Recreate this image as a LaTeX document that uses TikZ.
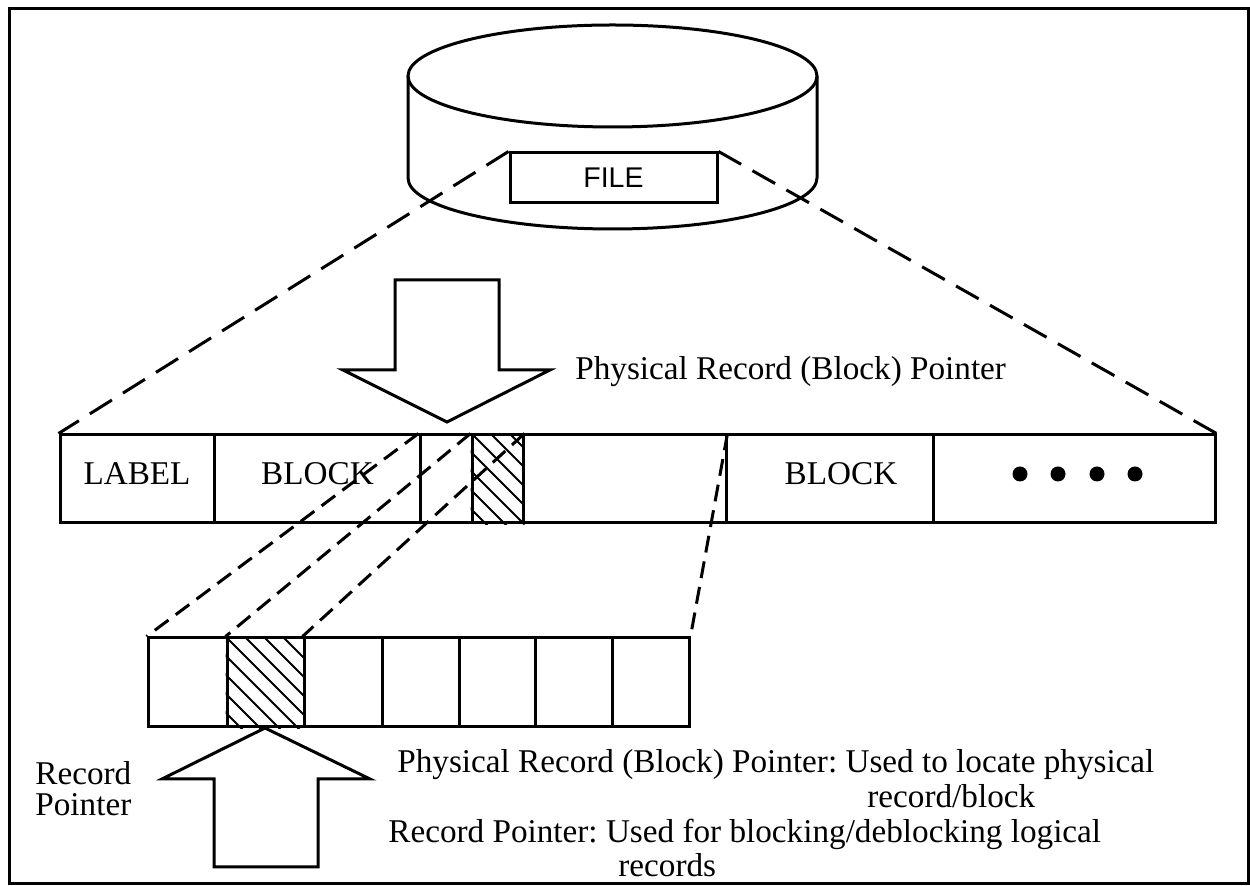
\documentclass[tikz,border=0pt]{standalone}
\usepackage{fontspec}
\setmainfont{Liberation Serif}
\newfontfamily\filefont{Liberation Sans}
\frenchspacing
\begin{document}
\begin{tikzpicture}[x=0.5pt,y=-0.5pt,
  lw/.style={line width=1.5pt},
  cell/.style={draw, line width=1.5pt, rectangle, inner sep=0pt, minimum height=44pt},
  lcell/.style={draw, line width=1.5pt, rectangle, inner sep=0pt, minimum height=44.5pt},
  txt/.style={font=\fontsize{16.6}{18}\selectfont, inner sep=0pt},
  longdash/.style={line width=1.5pt, dash pattern=on 13pt off 6.5pt},
  shortdash/.style={line width=1.5pt, dash pattern=on 8.5pt off 4.5pt},
  hatchline/.style={line width=1pt},
  bigarrow/.style={line width=1.5pt, line join=miter, fill=white}]

\useasboundingbox (0,0) rectangle (1250,886);
\draw[lw] (9,9) rectangle (1248,884);

% disk cylinder
\draw[lw, fill=white] (408,76) -- (408,178) arc[start angle=180, end angle=0, x radius=204.5, y radius=51] -- (817,76);
\draw[lw] (612.5,76) ellipse[x radius=204.5, y radius=51];

% FILE box
\node[draw, lw, fill=white, minimum width=103.5pt, minimum height=25pt, inner sep=0pt,
      font=\filefont\fontsize{14.25}{15}\selectfont] (file) at (613.5,178) {FILE};

% block strip
\node[cell, minimum width=77pt]    (label)  at (137,479) {};
\node[cell, minimum width=103pt]   (block1) at (317,479) {};
\node[cell, minimum width=26pt]    (c3)     at (446,479) {};
\node[cell, minimum width=25.5pt]  (hatch)  at (497.5,479) {};
\node[cell, minimum width=101.5pt] (c5)     at (624.5,479) {};
\node[cell, minimum width=103.5pt] (block2) at (829.5,479) {};
\node[cell, minimum width=141pt]   (dots)   at (1074,479) {};

\node[txt] (labeltxt)  at (137,474) {LABEL};
\node[txt] (block1txt) at (317.5,474) {BLOCK};
\node[txt] (block2txt) at (841,474) {BLOCK};
\foreach \x in {1020,1058,1097,1135} \fill (\x,474) circle[radius=7.5];

\begin{scope}
  \clip (hatch.south west) rectangle (hatch.north east);
  \foreach \a in {340,359,...,540} \draw[hatchline] (\a,435) -- ++(100,100);
\end{scope}

% lower strip (records)
\node[lcell, minimum width=39.5pt] (l1) at (187.5,682.5) {};
\node[lcell, minimum width=38.5pt] (l2) at (265.5,682.5) {};
\node[lcell, minimum width=39pt]   (l3) at (343,682.5) {};
\node[lcell, minimum width=38.5pt] (l4) at (420.5,682.5) {};
\node[lcell, minimum width=38pt]   (l5) at (497,682.5) {};
\node[lcell, minimum width=38.5pt] (l6) at (573.5,682.5) {};
\node[lcell, minimum width=38.5pt] (l7) at (650.5,682.5) {};

\begin{scope}
  \clip (l2.south west) rectangle (l2.north east);
  \foreach \a in {94,113,...,315} \draw[hatchline] (\a,638) -- ++(100,100);
\end{scope}

% dashed projection lines
\draw[longdash] (file.north west) -- (label.north west);
\draw[longdash] (file.north east) -- (dots.north east);
\draw[shortdash] (c3.north west) -- (l1.north west);
\draw[shortdash] (hatch.north west) -- (l2.north west);
\draw[shortdash] (hatch.north east) -- (l3.north west);
\draw[shortdash] (c5.north east) -- (l7.north east);

% block pointer arrow (down)
\draw[bigarrow] (395,280) -- (499,280) -- (499,370) -- (550,370) -- (447,422)
   -- (343,370) -- (395,370) -- cycle;
\node[txt, anchor=base west] (bptxt) at (575,380) {Physical Record (Block) Pointer};

% record pointer arrow (up)
\draw[bigarrow] (214,867) -- (318,867) -- (318,779) -- (370,779) -- (265,728)
   -- (162,779) -- (214,779) -- cycle;
\node[txt, anchor=base west] (rp1) at (35,785) {Record};
\node[txt, anchor=base west] (rp2) at (35,816) {Pointer};

% legend
\node[txt, anchor=base west] (lg1) at (397,773) {Physical Record (Block) Pointer: Used to locate physical};
\node[txt, anchor=base west] (lg2) at (867,808) {record/block};
\node[txt, anchor=base west] (lg3) at (388,843) {Record Pointer: Used for blocking/deblocking logical};
\node[txt, anchor=base west] (lg4) at (618,877) {records};
\end{tikzpicture}
\end{document}
